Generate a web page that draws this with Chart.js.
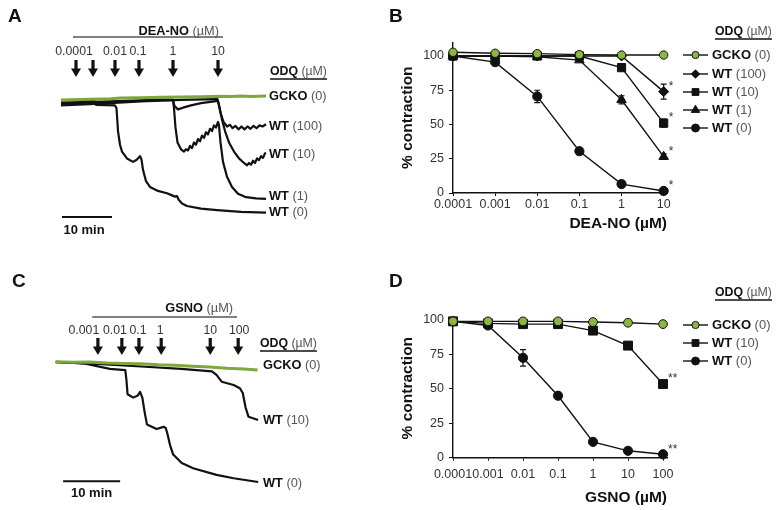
<!DOCTYPE html>
<html lang="en">
<head>
<meta charset="UTF-8">
<title>DEA-NO / GSNO relaxation</title>
<script src="https://cdn.jsdelivr.net/npm/chart.js@4"></script>
<style>
body { margin: 0; width: 777px; height: 510px; position: relative; background: #fff; overflow: hidden; font-family: "Liberation Sans", Arial, sans-serif; }
canvas { position: absolute; }
.letter { position: absolute; font-weight: bold; font-size: 19px; line-height: 1; color: #111; z-index: 2; }
</style>
</head>
<body>
<div class="letter" style="left:8px;top:6px">A</div>
<div class="letter" style="left:389px;top:6px">B</div>
<div class="letter" style="left:12px;top:271px">C</div>
<div class="letter" style="left:389px;top:271px">D</div>
<canvas id="chartA" width="390" height="250" style="left:0;top:0"></canvas>
<canvas id="chartB" width="387" height="230" style="left:390px;top:20px"></canvas>
<canvas id="chartC" width="390" height="255" style="left:0;top:255px"></canvas>
<canvas id="chartD" width="387" height="235" style="left:390px;top:275px"></canvas>
<script>
const FONT = '"Liberation Sans", Arial, sans-serif';
const INK = '#111';
const GREY = '#555';
const GREEN_LINE = '#7fa83a';
const GREEN_FILL = '#8db542';

// ---- A: DEA-NO traces, time (min) vs tension (% of precontraction)
const deaDoseTimes = [3, 6.4, 10.8, 15.6, 22.4, 31.4];
const deaDoseLabels = ['0.0001', '', '0.01', '0.1', '1', '10'];
const traceNamesA = [['GCKO', '(0)'], ['WT', '(100)'], ['WT', '(10)'], ['WT', '(1)'], ['WT', '(0)']];
const traceA_gcko = [[0,99.2],[4,99.6],[8,100.2],[10,100.4],[12,101],[16,101.2],[20,101.6],[24,101.9],[28,102.1],[32,102.5],[34,102.2],[36,102.8],[38,102.4],[41,102.7]];
const traceA_wt100 = [[0,94.5],[8,96],[16,98],[24,99.3],[31.3,100],[31.5,96],[31.9,88],[32.5,80],[33.2,76],[33.8,77.5],[34.3,74.5],[34.9,76.5],[35.5,73.5],[36.1,76],[36.7,73.5],[37.3,76],[37.9,74],[38.5,76.5],[39.1,74.5],[39.7,77],[40.3,76],[41,78]];
const traceA_wt10 = [[0,96],[10,97.5],[20,99],[22.4,99.2],[22.7,94],[23.4,91],[24.4,92.5],[26,94.5],[28,96.5],[31.4,98.5],[31.7,93],[32.2,82],[32.8,72],[33.6,62],[34.6,54],[35.6,48],[36.6,44],[37.2,42],[37.6,44],[38,42.5],[38.4,46],[38.8,44],[39.2,48],[39.6,46.5],[40,50],[40.4,48.5],[40.8,52.5],[41,52]];
const traceA_wt1 = [[0,97],[10,98],[20,99.5],[22.4,99.5],[22.6,92],[22.9,75],[23.3,62],[24,56],[24.6,54],[25,56],[25.4,55],[25.8,59],[26.2,57],[26.6,62],[27,60],[27.4,65],[27.8,63],[28.2,68],[28.6,66],[29,71],[29.4,69],[29.8,74],[30.2,72],[30.6,77],[31,75],[31.4,80],[31.6,77],[31.9,62],[32.4,45],[33.2,32],[34.2,23],[35.4,17],[37,14],[39,13],[41,12.5]];
const traceA_wt0 = [[0,99],[6.6,99],[7,95],[10.8,94.5],[11.1,92],[11.4,72],[11.8,60],[12.2,54],[13.2,48],[14.4,45],[15.2,47],[15.8,50],[16.1,47],[16.4,38],[17,28],[17.8,23],[19.4,19.5],[21.2,17.5],[22.8,14.5],[23.2,15],[23.5,12],[24.2,8.5],[25.2,6.3],[28,4],[31.2,2.7],[36,1.2],[41,0.5]];
const scaleBarA = [[0.2,-3.4],[10.2,-3.4]];

// ---- B: DEA-NO concentration-response
const doseB = [0.0001, 0.001, 0.01, 0.1, 1, 10];
const doseTickLabelsB = ['0.0001', '0.001', '0.01', '0.1', '1', '10'];
const gckoB = [102.7, 102, 101.7, 101, 100.7, 100.7];
const wt100B = [100, 100, 100, 100, 100, 74];
const wt10B = [100, 100, 100, 100, 91.5, 51];
const wt1B = [100, 100, 99.5, 97, 68, 26.5];
const wt0B = [100, 95.5, 70.5, 30.5, 6.5, 1.5];
const wt100ErrB = [0, 0, 0, 0, 0, 5.5];
const wt10ErrB = [0, 0, 0, 0, 1.5, 3];
const wt1ErrB = [0, 0, 0, 0, 3, 2];
const wt0ErrB = [0, 1.5, 4.5, 2.5, 1, 0];

// ---- C: GSNO traces
const gsnoDoseTimes = [7.4, 11.6, 14.6, 18.5, 27.1, 32.0];
const gsnoDoseLabels = ['0.001', '0.01', '0.1', '1', '10', '100'];
const traceNamesC = [['GCKO', '(0)'], ['WT', '(10)'], ['WT', '(0)']];
const traceC_gcko = [[0,100],[3,99.6],[6,99.8],[9,98.8],[12,98.4],[15,98.2],[18,97.4],[21,97],[24,96.2],[27,95.6],[30,94.6],[33,94],[35.4,93]];
const traceC_wt10 = [[0,99.5],[8,98],[15,96],[22,94],[27.4,92],[28.2,89],[29.1,83.4],[31.2,80.7],[32.3,78],[32.8,74],[33.3,62],[33.8,54.4],[35.5,51.7]];
const traceC_wt0 = [[0,99.8],[5,98.5],[9.5,94],[12.2,93],[12.4,85],[12.6,73],[13.6,70.2],[14.4,72],[14.8,75],[15.2,70],[15.6,58],[16,48],[17.7,44.2],[18.9,46],[19.3,45],[19.6,40],[20.1,30],[20.6,23],[22.1,16],[24.1,11.7],[28.2,6.2],[31.2,3.4],[35.5,0.3]];
const scaleBarC = [[1.3,1],[11.3,1]];

// ---- D: GSNO concentration-response
const doseD = [0.0001, 0.001, 0.01, 0.1, 1, 10, 100];
const doseTickLabelsD = ['0.0001', '0.001', '0.01', '0.1', '1', '10', '100'];
const gckoD = [99, 99, 99, 99, 98.5, 98, 97];
const wt10D = [99, 97.5, 97, 97, 92.3, 81.4, 53.5];
const wt0D = [99, 96, 72.5, 45, 11.5, 5, 2.5];
const wt10ErrD = [0, 0, 0, 0, 1, 1.5, 2];
const wt0ErrD = [0, 1, 6, 2, 1, 1, 1];

const pctTicks = [0, 25, 50, 75, 100];

function richText(ctx, parts, x, y, size, align) {
	let w = 0;
	for (const p of parts) { ctx.font = p[1] + ' ' + size + 'px ' + FONT; w += ctx.measureText(p[0]).width; }
	let cx = align === 'center' ? x - w / 2 : align === 'right' ? x - w : x;
	const x0 = cx;
	ctx.textBaseline = 'middle';
	ctx.textAlign = 'left';
	for (const p of parts) {
		ctx.font = p[1] + ' ' + size + 'px ' + FONT;
		ctx.fillStyle = p[2];
		ctx.fillText(p[0], cx, y);
		cx += ctx.measureText(p[0]).width;
	}
	return [x0, cx];
}
const named = (n, p) => [[n, 'bold', INK], [' ' + p, 'normal', GREY]];

function drawArrow(ctx, x, top, tip) {
	ctx.fillStyle = INK;
	ctx.fillRect(x - 1.6, top, 3.2, tip - top - 7);
	ctx.beginPath();
	ctx.moveTo(x - 5, tip - 8.5);
	ctx.lineTo(x + 5, tip - 8.5);
	ctx.lineTo(x, tip);
	ctx.closePath();
	ctx.fill();
}

// annotations for the trace panels (doses, header, labels, scale bar)
const traceNotes = {
	id: 'traceNotes',
	afterDraw(chart, args, o) {
		const { ctx, chartArea } = chart;
		const xs = chart.scales.x;
		ctx.save();
		o.doses.forEach((t, i) => {
			const px = xs.getPixelForValue(t);
			drawArrow(ctx, px, o.arrowTop, o.arrowTip);
			if (o.doseLabels[i]) richText(ctx, [[o.doseLabels[i], 'normal', '#333']], px + o.labelShift[i], o.labelY, 12.3, 'center');
		});
		const l0 = xs.getPixelForValue(o.lineFrom), l1 = xs.getPixelForValue(o.lineTo);
		ctx.strokeStyle = GREY; ctx.lineWidth = 1.5;
		ctx.beginPath(); ctx.moveTo(l0, o.lineY); ctx.lineTo(l1, o.lineY); ctx.stroke();
		richText(ctx, [[o.drug, 'bold', INK], [' (µM)', 'normal', GREY]], l1 - 4, o.hdrY, 12.8, 'right');
		const [u0, u1] = richText(ctx, [['ODQ', 'bold', INK], [' (µM)', 'normal', GREY]], o.odqX, o.odqY, 12.3, 'left');
		ctx.strokeStyle = INK; ctx.lineWidth = 1.3;
		ctx.beginPath(); ctx.moveTo(u0, o.odqY + 7); ctx.lineTo(u1, o.odqY + 7); ctx.stroke();
		o.names.forEach((n, i) => {
			const pts = chart.getDatasetMeta(i).data;
			richText(ctx, named(n[0], n[1]), chartArea.right + o.nameGap, pts[pts.length - 1].y + o.nameDy[i], 12.8, 'left');
		});
		const bar = chart.getDatasetMeta(chart.data.datasets.length - 1).data;
		richText(ctx, [['10 min', 'bold', INK]], (bar[0].x + bar[1].x) / 2 + o.barShift, o.barLabelY, 13, 'center');
		ctx.restore();
	}
};

function traceChart(id, sets, xr, yr, pad, notes) {
	const colours = [GREEN_LINE].concat(sets.slice(1).map(() => INK));
	return new Chart(document.getElementById(id), {
		type: 'scatter',
		data: {
			datasets: sets.map((d, i) => ({
				data: d, showLine: true, pointRadius: 0, borderColor: colours[i],
				borderWidth: i === 0 ? 3 : (i === sets.length - 1 ? 2 : 2.2),
				borderJoinStyle: 'round', clip: false
			}))
		},
		options: {
			responsive: false, animation: false, events: [],
			layout: { padding: pad },
			plugins: { legend: { display: false }, tooltip: { enabled: false }, traceNotes: notes },
			scales: {
				x: { type: 'linear', display: false, min: xr[0], max: xr[1] },
				y: { display: false, min: yr[0], max: yr[1] }
			}
		},
		plugins: [traceNotes]
	});
}

traceChart('chartA', [traceA_gcko, traceA_wt100, traceA_wt10, traceA_wt1, traceA_wt0, scaleBarA],
	[-1, 41], [-6, 108], { left: 56, right: 124, top: 90, bottom: 30 },
	{ doses: deaDoseTimes, doseLabels: deaDoseLabels, labelShift: [-2, 0, 0, -1, 0, 0], drug: 'DEA-NO',
	  hdrY: 31, lineY: 37, lineFrom: 2.4, lineTo: 32.4, labelY: 52, arrowTop: 60, arrowTip: 77,
	  odqX: 270, odqY: 72, names: traceNamesA, nameGap: 3, nameDy: [0, 2, 1, -2, 0], barLabelY: 230, barShift: -3 });

traceChart('chartC', [traceC_gcko, traceC_wt10, traceC_wt0, scaleBarC],
	[-1, 36], [-8, 108], { left: 50, right: 129, top: 97, bottom: 18 },
	{ doses: gsnoDoseTimes, doseLabels: gsnoDoseLabels, labelShift: [-14, -7, -1, -1, 0, 1], drug: 'GSNO',
	  hdrY: 53, lineY: 62, lineFrom: 6.4, lineTo: 31.8, labelY: 76, arrowTop: 83, arrowTip: 100,
	  odqX: 260, odqY: 89, names: traceNamesC, nameGap: 2, nameDy: [-5, 1, 1], barLabelY: 238, barShift: 0 });

// error bars, significance marks and the ODQ legend for the dose-response panels
const errBars = {
	id: 'errBars',
	beforeDatasetsDraw(chart) {
		const { ctx } = chart, ys = chart.scales.y;
		ctx.save();
		ctx.strokeStyle = INK; ctx.lineWidth = 1.2;
		chart.data.datasets.forEach((ds, i) => {
			if (!ds.errors) return;
			chart.getDatasetMeta(i).data.forEach((el, j) => {
				const e = ds.errors[j];
				if (!e) return;
				const v = ds.data[j].y, t = ys.getPixelForValue(v + e), b = ys.getPixelForValue(v - e);
				ctx.beginPath();
				ctx.moveTo(el.x, t); ctx.lineTo(el.x, b);
				ctx.moveTo(el.x - 3, t); ctx.lineTo(el.x + 3, t);
				ctx.moveTo(el.x - 3, b); ctx.lineTo(el.x + 3, b);
				ctx.stroke();
			});
		});
		ctx.restore();
	},
	afterDatasetsDraw(chart) {
		const { ctx } = chart;
		ctx.save();
		chart.data.datasets.forEach((ds, i) => {
			if (!ds.sig) return;
			const pts = chart.getDatasetMeta(i).data, p = pts[pts.length - 1];
			richText(ctx, [[ds.sig, 'normal', '#333']], p.x + 5, p.y - 5, 12, 'left');
		});
		ctx.restore();
	}
};

function marker(ctx, style, r, x, y) {
	if (Chart.helpers && Chart.helpers.drawPoint) {
		Chart.helpers.drawPoint(ctx, { pointStyle: style, radius: r, rotation: 0, borderWidth: 1 }, x, y);
		return;
	}
	ctx.beginPath();
	ctx.arc(x, y, r, 0, Math.PI * 2);
	ctx.fill(); ctx.stroke();
}

const odqLegend = {
	id: 'odqLegend',
	afterDraw(chart, args, o) {
		const { ctx } = chart;
		ctx.save();
		const [u0, u1] = richText(ctx, [['ODQ', 'bold', INK], [' (µM)', 'normal', GREY]], o.headX, o.headY, 12.3, 'left');
		ctx.strokeStyle = INK; ctx.lineWidth = 1.3;
		ctx.beginPath(); ctx.moveTo(u0, o.headY + 7); ctx.lineTo(u1, o.headY + 7); ctx.stroke();
		chart.data.datasets.forEach((ds, i) => {
			const y = o.rowY[i];
			ctx.strokeStyle = INK; ctx.lineWidth = 1.4;
			ctx.beginPath(); ctx.moveTo(o.lineX[0], y); ctx.lineTo(o.lineX[1], y); ctx.stroke();
			ctx.fillStyle = ds.pointBackgroundColor; ctx.strokeStyle = INK; ctx.lineWidth = 1;
			marker(ctx, ds.pointStyle, ds.legendRadius, (o.lineX[0] + o.lineX[1]) / 2, y);
			richText(ctx, named(ds.label[0], ds.label[1]), o.textX, y, 13, 'left');
		});
		ctx.restore();
	}
};

function series(doses, vals, label, style, r, lr, fill, errs, sig) {
	return {
		label, data: doses.map((d, i) => ({ x: d, y: vals[i] })), showLine: true,
		borderColor: INK, borderWidth: 1.4, pointStyle: style, pointRadius: r, legendRadius: lr,
		pointBackgroundColor: fill, pointBorderColor: INK, pointBorderWidth: 1, clip: false,
		errors: errs, sig
	};
}

function doseChart(id, doses, tickLabels, sets, xMax, yMax, pad, xHeight, tickPad, titlePadBottom, title, legend) {
	const font = { family: FONT, size: 12.5 };
	const titleFont = { family: FONT, size: 15.5, weight: 'bold' };
	return new Chart(document.getElementById(id), {
		type: 'scatter',
		data: { datasets: sets },
		options: {
			responsive: false, animation: false, events: [],
			layout: { padding: pad },
			plugins: { legend: { display: false }, tooltip: { enabled: false }, odqLegend: legend },
			scales: {
				x: {
					type: 'logarithmic', min: doses[0], max: xMax,
					afterBuildTicks: s => { s.ticks = doses.map(v => ({ value: v })); },
					afterFit: s => { s.height = xHeight; },
					ticks: { callback: (v, i) => tickLabels[i], font, color: '#333', padding: tickPad, maxRotation: 0, autoSkip: false },
					grid: { display: true, drawOnChartArea: false, tickLength: 3, color: INK },
					border: { display: true, color: INK, width: 1.4 },
					title: { display: true, text: title, align: 'end', color: INK, font: titleFont, padding: { top: 0, bottom: titlePadBottom } }
				},
				y: {
					min: 0, max: yMax,
					afterBuildTicks: s => { s.ticks = pctTicks.map(v => ({ value: v })); },
					afterFit: s => { s.width = 63; },
					ticks: { font, color: '#333', padding: 5 },
					grid: { display: true, drawOnChartArea: false, tickLength: 4, color: INK },
					border: { display: true, color: INK, width: 1.4 },
					title: { display: true, text: '% contraction', color: INK, font: titleFont, padding: { top: 8.5, bottom: 0 } }
				}
			}
		},
		plugins: [errBars, odqLegend]
	});
}

doseChart('chartB', doseB, doseTickLabelsB, [
	series(doseB, gckoB, ['GCKO', '(0)'], 'circle', 4.2, 3.6, GREEN_FILL, null, ''),
	series(doseB, wt100B, ['WT', '(100)'], 'rectRot', 5, 4.2, INK, wt100ErrB, '*'),
	series(doseB, wt10B, ['WT', '(10)'], 'rect', 5.8, 4.8, INK, wt10ErrB, '*'),
	series(doseB, wt1B, ['WT', '(1)'], 'triangle', 5.5, 4.8, INK, wt1ErrB, '*'),
	series(doseB, wt0B, ['WT', '(0)'], 'circle', 4.6, 4, INK, wt0ErrB, '*')
], 12, 110, { left: 0, top: 22.3, right: 110, bottom: 0 }, 57, 1, 17, 'DEA-NO (µM)',
	{ headX: 325, headY: 12, lineX: [293, 318], textX: 322, rowY: [35, 54, 72, 90, 108] });

doseChart('chartD', doseD, doseTickLabelsD, [
	series(doseD, gckoD, ['GCKO', '(0)'], 'circle', 4.4, 3.6, GREEN_FILL, null, ''),
	series(doseD, wt10D, ['WT', '(10)'], 'rect', 6.3, 4.8, INK, wt10ErrD, '**'),
	series(doseD, wt0D, ['WT', '(0)'], 'circle', 4.6, 4, INK, wt0ErrD, '**')
], 130, 101, { left: 0, top: 43.6, right: 110, bottom: 0 }, 52.3, 6, 2.7, 'GSNO (µM)',
	{ headX: 325, headY: 18, lineX: [293, 318], textX: 322, rowY: [50, 68, 86] });
</script>
</body>
</html>
